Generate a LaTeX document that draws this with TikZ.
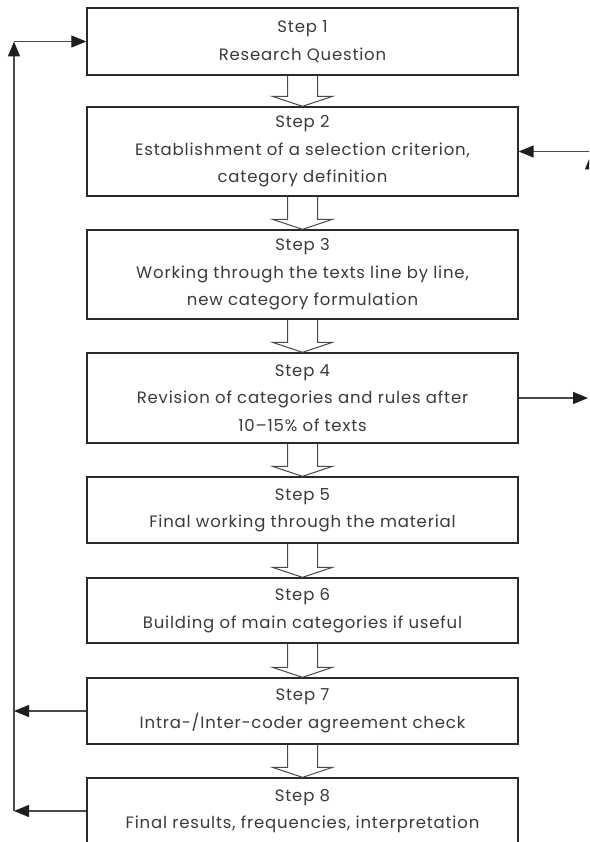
\documentclass[tikz,border=0pt]{standalone}
\usepackage{fontspec}
\setmainfont{Poppins}[LetterSpace=5]
\usetikzlibrary{arrows.meta,calc}
\definecolor{inkdark}{HTML}{2A2A2A}
\definecolor{inkline}{HTML}{4A4A4A}
\definecolor{inktext}{HTML}{3A3A3A}
\definecolor{tipfill}{HTML}{1E1E1E}
\tikzset{
  stepbox/.style={draw=inkdark, line width=1.3pt, fill=white, minimum width=431pt,
    align=center, inner sep=0pt, text=inktext,
    font=\fontsize{16.5}{27.5}\selectfont},
  conn/.style={draw=inkline, line width=1.2pt,
    -{Triangle[length=15pt,width=12pt,color=tipfill]}},
  hollowarrow/.style={draw=inkline, line width=1pt, line join=miter},
}
% hollow block arrow from the bottom of one step to the top of the next
\newcommand\flowarrow[2]{%
  \draw[hollowarrow] let \p1=(#1.south), \p2=(#2.north) in
    (\x1-15pt,\y1) -- (\x1-15pt,\y2+10pt) -- (\x1-30pt,\y2+10pt) -- (\x1,\y2)
    -- (\x1+30pt,\y2+10pt) -- (\x1+15pt,\y2+10pt) -- (\x1+15pt,\y1);}
\begin{document}
\begin{tikzpicture}[x=1pt,y=-1pt]
\useasboundingbox (0,0) rectangle (589,842);
\clip (0,0) rectangle (589,842);

\node[stepbox, minimum height=67pt] (b1) at (302.5,41.5) {Step 1\\Research Question};
\node[stepbox, minimum height=89pt] (b2) at (302.5,151.5) {Step 2\\Establishment of a selection criterion,\\category definition};
\node[stepbox, minimum height=89pt] (b3) at (302.5,274.5) {Step 3\\Working through the texts line by line,\\new category formulation};
\node[stepbox, minimum height=90pt] (b4) at (302.5,398) {Step 4\\Revision of categories and rules after\\10–15\% of texts};
\node[stepbox, minimum height=66pt] (b5) at (302.5,510) {Step 5\\Final working through the material};
\node[stepbox, minimum height=65pt] (b6) at (302.5,610.5) {Step 6\\Building of main categories if useful};
\node[stepbox, minimum height=66pt] (b7) at (302.5,711) {Step 7\\Intra-/Inter-coder agreement check};
\node[stepbox, minimum height=66pt] (b8) at (302.5,811) {Step 8\\Final results, frequencies, interpretation};

\flowarrow{b1}{b2}
\flowarrow{b2}{b3}
\flowarrow{b3}{b4}
\flowarrow{b4}{b5}
\flowarrow{b5}{b6}
\flowarrow{b6}{b7}
\flowarrow{b7}{b8}

% feedback loop on the left
\coordinate (lt) at (14,41.5);
\coordinate (lb) at (14,811);
\draw[conn] (lb) -- (lt);
\draw[conn] (lt) -- (b1.west);
\draw[conn] (b7.west) -- (b7.west -| lb);
\draw[conn] (b8.west) -- (b8.west -| lb);

% connections on the right
\coordinate (rt) at (591,151.5);
\coordinate (rb) at (591,398);
\coordinate (r4) at (588,398);
\draw[conn] (rb) -- ($(rt)+(0,3)$);
\draw[conn] (rt) -- (b2.east);
\draw[conn] (b4.east) -- (r4);
\end{tikzpicture}
\end{document}
